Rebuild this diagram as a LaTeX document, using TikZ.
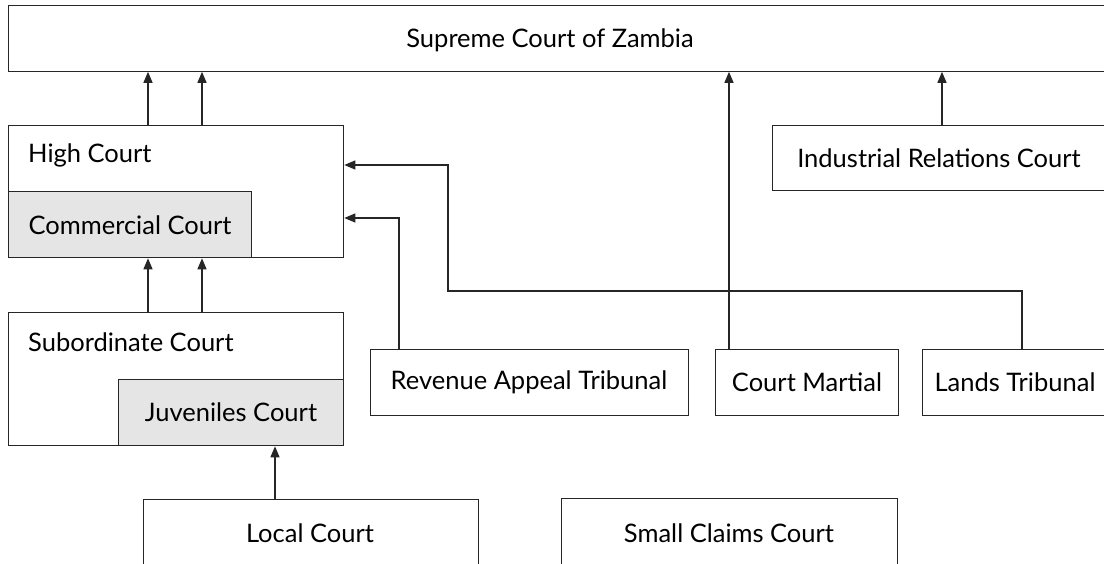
\documentclass[tikz,border=0pt]{standalone}
\usepackage{fontspec}
\setmainfont{Lato}
\usetikzlibrary{arrows.meta}
\begin{document}
\begin{tikzpicture}[x=1pt,y=-1pt,
  court/.style={draw=black!85, line width=1.3pt, inner sep=0pt, anchor=north west},
  sub/.style={court, fill=black!10},
  lbl/.style={font=\fontsize{25.5}{30}\selectfont, inner sep=0pt, text=black},
  conn/.style={draw=black!85, line width=1.3pt},
  arr/.style={conn, -{Triangle[length=11pt,width=9pt]}}]
\useasboundingbox (0,0) rectangle (1104,563);
\clip (0,0) rectangle (1104,563);
% boxes
\node[court, minimum width=1110pt, minimum height=66pt] (sc) at (8,4.5) {};
\node[court, minimum width=335pt, minimum height=132pt] (hc) at (8,125) {};
\node[sub, minimum width=243pt, minimum height=66pt] (cc) at (8,191) {};
\node[court, minimum width=335pt, minimum height=133pt] (sub) at (8,312) {};
\node[sub, minimum width=225pt, minimum height=66pt] (jc) at (118,379) {};
\node[court, minimum width=340pt, minimum height=65pt] (irc) at (772,125) {};
\node[court, minimum width=318pt, minimum height=66pt] (rat) at (370,349) {};
\node[court, minimum width=183pt, minimum height=66pt] (cm) at (715,349) {};
\node[court, minimum width=190pt, minimum height=66pt] (lt) at (922,349) {};
\node[court, minimum width=335pt, minimum height=80pt] (lc) at (143,499) {};
\node[court, minimum width=336pt, minimum height=80pt] (scc) at (561,498) {};
% labels
\node[lbl] (tsc) at (550,40) {Supreme Court of Zambia};
\node[lbl, anchor=west] (thc) at (28,155) {High Court};
\node[lbl] (tcc) at (130,225) {Commercial Court};
\node[lbl, anchor=west] (tsub) at (28,342) {Subordinate Court};
\node[lbl] (tjc) at (231,412) {Juveniles Court};
\node[lbl] (tirc) at (939,158) {Industrial Relations Court};
\node[lbl] (trat) at (529,382) {Revenue Appeal Tribunal};
\node[lbl] (tcm) at (807,382) {Court Martial};
\node[lbl] (tlt) at (1015,382) {Lands Tribunal};
\node[lbl] (tlc) at (310,533) {Local Court};
\node[lbl] (tscc) at (729,533) {Small Claims Court};
% connectors
\coordinate (j1) at (448,291);
\draw[arr] (hc.north west -| 148,0) -- (sc.south west -| 148,0);
\draw[arr] (hc.north west -| 202,0) -- (sc.south west -| 202,0);
\draw[arr] (sub.north west -| 148,0) -- (hc.south west -| 148,0);
\draw[arr] (sub.north west -| 202,0) -- (hc.south west -| 202,0);
\draw[arr] (lc.north west -| 275,0) -- (jc.south west -| 275,0);
\draw[arr] (irc.north west -| 942,0) -- (sc.south west -| 942,0);
\draw[arr] (cm.north west -| 729,0) -- (sc.south west -| 729,0);
\draw[arr] (rat.north west -| 399,0) |- (hc.east |- 0,218);
\draw[arr] (lt.north west -| 1022,0) |- (j1) |- (hc.east |- 0,165);
\end{tikzpicture}
\end{document}
